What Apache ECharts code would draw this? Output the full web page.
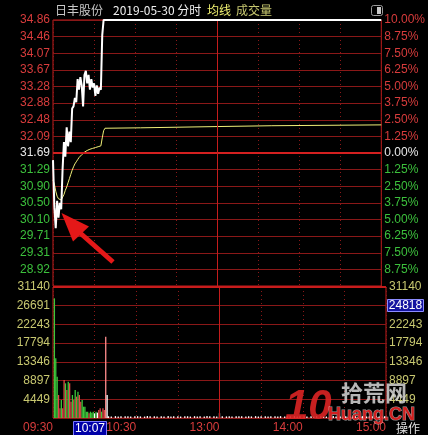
<!DOCTYPE html>
<html><head><meta charset="utf-8">
<script src="https://cdn.jsdelivr.net/npm/echarts@6/dist/echarts.min.js"></script>
<style>html,body{margin:0;padding:0;background:#000;}#c{width:428px;height:435px;}</style>
</head><body><div id="c"></div>
<script>
// ---------- data ----------
const stockName = '日丰股份';
const dateText = '2019-05-30 分时';
const avgText = '均线';
const volText = '成交量';
const prevClose = 31.69;
const limitUpPrice = 34.86;
const closeMinute = 240;
const cursorTime = '10:07';
const cursorVol = '24818';

const priceTickLabels = ['34.86','34.46','34.07','33.67','33.28','32.88','32.48','32.09','31.69','31.29','30.90','30.50','30.10','29.71','29.31','28.92'];
const pctTickLabels = ['10.00%','8.75%','7.50%','6.25%','5.00%','3.75%','2.50%','1.25%','0.00%','1.25%','2.50%','3.75%','5.00%','6.25%','7.50%','8.75%'];
const volTickLabels = ['31140','26691','22243','17794','13346','8897','4449'];
const volMax = 31140;
const timeTickMinutes = [0, 60, 120, 180, 240];
const timeTickText = ['09:30', '10:30', '13:00', '14:00', '15:00'];

// price per minute from 09:30 until limit-up (minute 37), then flat at limit
const priceByMinute = [31.52, 30.40, 29.90, 30.55, 30.15, 30.50, 30.35, 31.30, 31.95, 31.60,
  32.30, 31.85, 32.20, 31.95, 32.75, 32.80, 33.00, 32.90, 33.45, 33.20,
  33.50, 33.30, 32.80, 33.55, 33.65, 33.35, 33.55, 33.20, 33.45, 33.25,
  33.35, 33.05, 33.30, 33.10, 33.25, 33.20, 34.50, 34.86];

// average price per minute (0..39) then step points
const avgByMinute = [31.05, 30.95, 30.78, 30.66, 30.60, 30.58, 30.57, 30.60, 30.70, 30.80,
  30.88, 30.98, 31.08, 31.18, 31.28, 31.36, 31.43, 31.48, 31.53, 31.58,
  31.62, 31.65, 31.68, 31.71, 31.73, 31.75, 31.77, 31.78, 31.79, 31.80,
  31.81, 31.82, 31.83, 31.84, 31.85, 31.86, 32.05, 32.22, 32.28, 32.29];
const avgLaterMinutes = [64, 65, 120, 121, 160, 161, 240];
const avgLaterValues = [32.29, 32.32, 32.32, 32.34, 32.34, 32.36, 32.36];

// volume per minute (09:31 .. 10:09), with direction: d=down(green) u=up(red) f=flat(white) L=limit-up
const volByMinute = [28450, 14190, 9830, 5470, 2300, 4280, 2300, 9030, 8240, 6660,
  8640, 8240, 3880, 5470, 4280, 6660, 5070, 6260, 5470, 3880,
  4280, 2690, 2690, 1500, 1500, 1110, 1500, 1270, 1500, 1110,
  1500, 1270, 1900, 2300, 1500, 2300, 1900, 19320, 5470];
const volDir = 'ddduuduudu' + 'duudududuu' + 'dddddudddf' + 'dfuuduuLf';
// volume per minute from 10:10 to the close (sealed at limit-up, small prints)
const volLater = [
  420,0,380,0,0,450,0,360,0,410,0,0,390,0,440,0,370,0,0,400,
  0,430,0,380,0,0,350,0,460,0,390,0,0,420,0,370,0,0,410,0,
  380,0,0,450,0,360,0,400,0,0,430,0,370,0,0,390,0,420,0,350,
  0,0,440,0,380,0,410,0,0,360,0,450,0,390,0,0,420,0,370,0,
  1150,0,400,0,0,380,0,430,0,360,0,0,410,0,390,0,440,0,0,370,
  0,420,0,380,0,0,450,0,360,0,400,0,0,430,0,370,0,390,0,0,
  410,0,380,0,440,0,0,360,0,420,0,390,0,0,450,0,370,0,400,0,
  0,430,0,380,0,0,410,0,360,0,440,0,0,390,0,420,0,370,0,0,
  400,0,450,0,380,0,0,360,0,410,0,430,0,0,390,0,370,0,420,0,
  0,380,0,440,0,0,360,0,410,0,390,0,0,430,0,370,0,400,0,420];

// ---------- chart ----------
const RED = '#d83c3c', GREEN = '#3cc03c', WHITE = '#e8e8e8', GRIDC = '#8a1818', BORDER = '#c41c1c', VOLC = '#c8c870';
const FONT = 'Liberation Sans';
const CJK = '"Noto Sans CJK SC"';
const toPct = p => (p - prevClose) / prevClose * 100;
const dirColor = { d: '#3cc83c', u: '#e04848', f: '#ffffff', L: '#ff8c8c' };

const priceData = priceByMinute.map((p, i) => [i, toPct(p)]).concat([[closeMinute, toPct(limitUpPrice)]]);
const avgData = avgByMinute.map((p, i) => [i, toPct(p)]).concat(avgLaterMinutes.map((m, k) => [m, toPct(avgLaterValues[k])]));
const firstLaterMinute = volByMinute.length + 1;
const volData = volByMinute.map((v, i) => ({ value: [i + 1, v], itemStyle: { color: dirColor[volDir[i]] } }))
  .concat(volLater.map((v, j) => ({ value: [firstLaterMinute + j, v], itemStyle: { color: '#ffffff' } })));

const pctColor = v => { const n = Number(v); return n > 0.001 ? RED : (n < -0.001 ? GREEN : WHITE); };
const pctIndex = v => Math.round((10 - Number(v)) / 1.25);
const volIndex = v => Math.round((volMax - Number(v)) / (volMax / 7));

const xBase = {
  type: 'value', min: 0, max: 240, interval: 30,
  axisLine: { show: false }, axisTick: { show: false },
  splitLine: { show: true, lineStyle: { color: GRIDC, type: [1, 3], width: 1 } }
};
const yNoLine = { axisLine: { show: false }, axisTick: { show: false } };

const option = {
  backgroundColor: '#000000',
  animation: false,
  grid: [
    { left: 53, top: 20, width: 333, height: 266, show: true, borderColor: BORDER, borderWidth: 1, backgroundColor: 'transparent' },
    { left: 53, top: 287, width: 333, height: 131, show: true, borderColor: BORDER, borderWidth: 1, backgroundColor: 'transparent' }
  ],
  xAxis: [
    Object.assign({ gridIndex: 0, axisLabel: { show: false } }, xBase),
    Object.assign({ gridIndex: 1, axisLabel: {
      show: true, color: RED, fontSize: 12, fontFamily: FONT, align: 'right', margin: 4,
      formatter: v => { const k = timeTickMinutes.indexOf(Math.round(v)); return k >= 0 ? timeTickText[k] : ''; }
    } }, xBase)
  ],
  yAxis: [
    Object.assign({ gridIndex: 0, type: 'value', min: -10, max: 10, interval: 1.25, position: 'left',
      splitLine: { show: true, lineStyle: { color: GRIDC, width: 1 } },
      axisLabel: { fontSize: 12, fontFamily: FONT, margin: 3, color: pctColor, formatter: v => priceTickLabels[pctIndex(v)] || '' } }, yNoLine),
    Object.assign({ gridIndex: 0, type: 'value', min: -10, max: 10, interval: 1.25, position: 'right',
      splitLine: { show: false },
      axisLabel: { fontSize: 12, fontFamily: FONT, margin: 3, color: pctColor, formatter: v => pctTickLabels[pctIndex(v)] || '' } }, yNoLine),
    Object.assign({ gridIndex: 1, type: 'value', min: 0, max: volMax, interval: volMax / 7, position: 'left',
      splitLine: { show: true, lineStyle: { color: GRIDC, width: 1 } },
      axisLabel: { fontSize: 12, fontFamily: FONT, margin: 3, color: VOLC, formatter: v => Number(v) > 1 ? (volTickLabels[volIndex(v)] || '') : '' } }, yNoLine),
    Object.assign({ gridIndex: 1, type: 'value', min: 0, max: volMax, interval: volMax / 7, position: 'right',
      splitLine: { show: false },
      axisLabel: { fontSize: 12, fontFamily: FONT, margin: 3, color: VOLC, formatter: v => Number(v) > 1 ? (volTickLabels[volIndex(v)] || '') : '' } }, yNoLine)
  ],
  series: [
    {
      name: 'avg', type: 'line', xAxisIndex: 0, yAxisIndex: 0, data: avgData,
      symbol: 'none', showSymbol: false, clip: false, z: 3,
      lineStyle: { color: '#f0f078', width: 1 },
      markLine: { silent: true, symbol: 'none', label: { show: false }, animation: false,
        data: [
          { yAxis: 0, lineStyle: { color: '#d42020', width: 2, type: 'solid' } },
          { xAxis: 120, lineStyle: { color: BORDER, width: 1, type: 'solid' } }
        ] }
    },
    {
      name: 'price', type: 'line', xAxisIndex: 0, yAxisIndex: 0, data: priceData,
      symbol: 'none', showSymbol: false, clip: false, z: 5,
      lineStyle: { color: '#ffffff', width: 2 }
    },
    {
      name: 'vol', type: 'bar', xAxisIndex: 1, yAxisIndex: 2, data: volData, barWidth: 1.3, z: 4,
      markLine: { silent: true, symbol: 'none', label: { show: false }, animation: false,
        data: [
          { xAxis: 120, lineStyle: { color: BORDER, width: 1, type: 'solid' } },
          { yAxis: volMax, lineStyle: { color: '#c81c1c', width: 2, type: 'solid' } }
        ] }
    }
  ],
  graphic: [
    { type: 'text', x: 55, y: 10, style: { text: stockName, fill: '#c8c8c8', font: '12px ' + CJK, verticalAlign: 'middle' } },
    { type: 'text', x: 113, y: 10, style: { text: dateText, fill: '#f0f0f0', font: '12px ' + CJK, verticalAlign: 'middle' } },
    { type: 'text', x: 207, y: 10, style: { text: avgText, fill: '#f0f070', font: '12px ' + CJK, verticalAlign: 'middle' } },
    { type: 'text', x: 236, y: 10, style: { text: volText, fill: '#c8c870', font: '12px ' + CJK, verticalAlign: 'middle' } },
    { type: 'rect', shape: { x: 371.5, y: 5.5, width: 11, height: 10, r: 2 }, style: { fill: 'none', stroke: '#9a9a9a', lineWidth: 1 } },
    { type: 'rect', shape: { x: 377, y: 7, width: 4, height: 7 }, style: { fill: '#c8c8c8' } },
    // red arrow annotation
    { type: 'line', shape: { x1: 113, y1: 262, x2: 79, y2: 232 }, style: { stroke: '#e41818', lineWidth: 5 }, z: 100 },
    { type: 'polygon', shape: { points: [[61.5, 213], [73, 241.5], [89, 226.5]] }, style: { fill: '#e41818' }, z: 100 },
    // cursor labels
    { type: 'rect', shape: { x: 73.5, y: 421.5, width: 33, height: 14 }, style: { fill: '#0000a8', stroke: '#7878ff', lineWidth: 1 }, z: 100 },
    { type: 'text', x: 90, y: 428.5, style: { text: cursorTime, fill: '#ffffff', font: '12px ' + FONT, align: 'center', verticalAlign: 'middle' }, z: 101 },
    { type: 'rect', shape: { x: 387.5, y: 299.5, width: 36, height: 12 }, style: { fill: '#1414a0', stroke: '#8c8cff', lineWidth: 1 }, z: 100 },
    { type: 'text', x: 405.5, y: 305.5, style: { text: cursorVol, fill: '#ffffff', font: '12px ' + FONT, align: 'center', verticalAlign: 'middle' }, z: 101 },
    { type: 'text', x: 396, y: 428, style: { text: '操作', fill: '#e0e0e0', font: '12px ' + CJK, verticalAlign: 'middle' }, z: 101 },
    // watermark
    { type: 'text', x: 285, y: 407, style: { text: '10', fill: 'rgba(220,36,36,0.9)', font: 'bold italic 42px ' + FONT, verticalAlign: 'middle' }, z: 90 },
    { type: 'text', x: 341, y: 393, style: { text: '拾荒网', fill: 'rgba(215,215,215,0.85)', font: 'bold 22px ' + CJK, verticalAlign: 'middle' }, z: 91 },
    { type: 'text', x: 328, y: 415, style: { text: 'Huang.CN', fill: 'rgba(220,32,32,0.95)', font: 'bold 18px ' + FONT, verticalAlign: 'middle', stroke: 'rgba(255,255,255,0.6)', lineWidth: 1 }, z: 92 }
  ]
};

const chart = echarts.init(document.getElementById('c'), null, { renderer: 'canvas' });
chart.setOption(option);
</script>
</body></html>
